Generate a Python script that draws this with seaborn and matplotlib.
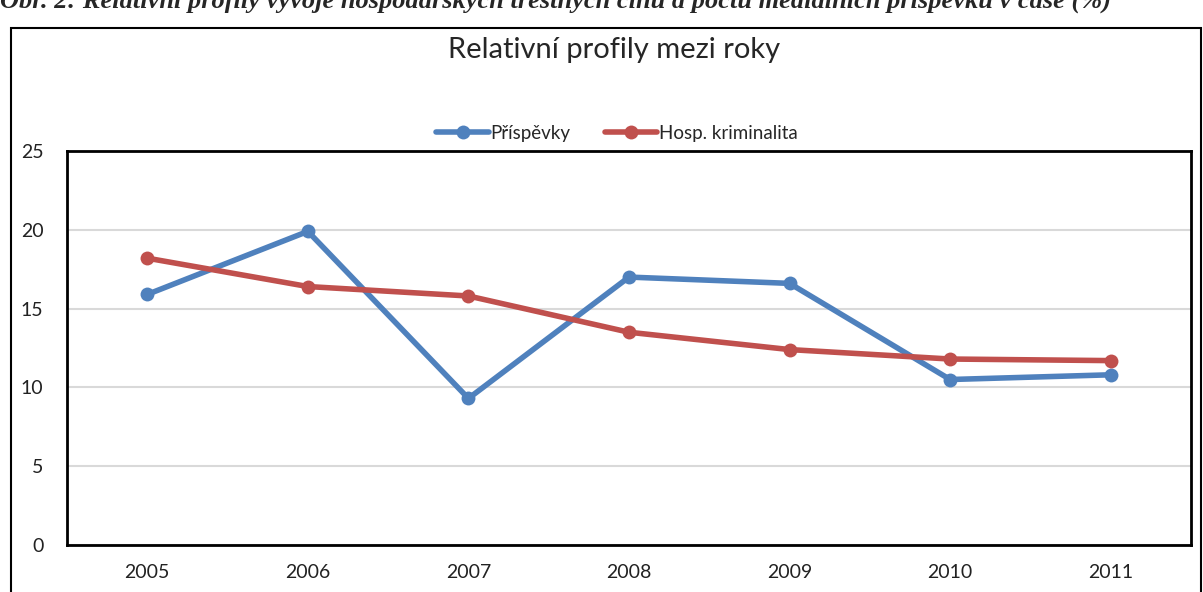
import matplotlib
matplotlib.use("Agg")
import matplotlib.pyplot as plt
import pandas as pd
import seaborn as sns
from matplotlib.patches import Rectangle

# data
years = [2005, 2006, 2007, 2008, 2009, 2010, 2011]
prispevky = [15.9, 19.9, 9.3, 17.0, 16.6, 10.5, 10.8]
kriminalita = [18.2, 16.4, 15.8, 13.5, 12.4, 11.8, 11.7]
series_names = ["Příspěvky", "Hosp. kriminalita"]
y_ticks = [0, 5, 10, 15, 20, 25]

caption = "Obr. 2: Relativní profily vývoje hospodářských trestných činů a počtu mediálních příspěvků v čase (%)"
title = "Relativní profily mezi roky"

df = pd.DataFrame({
    "rok": years * 2,
    "hodnota": prispevky + kriminalita,
    "serie": [series_names[0]] * len(years) + [series_names[1]] * len(years),
})

sns.set_style("white")
plt.rcParams["font.family"] = ["Lato", "DejaVu Sans"]

fig = plt.figure(figsize=(12.03, 5.92), dpi=100)
ax = fig.add_axes([67 / 1203, 1 - 545 / 592, (1191 - 67) / 1203, (545 - 151) / 592])

palette = {series_names[0]: "#4F81BD", series_names[1]: "#C0504D"}
sns.lineplot(data=df, x="rok", y="hodnota", hue="serie", palette=palette,
             marker="o", markersize=10, markeredgewidth=0, linewidth=4,
             ax=ax, zorder=3)

ax.set_xlim(years[0] - 0.5, years[-1] + 0.5)
ax.set_ylim(0, 25)
ax.set_xticks(years)
ax.set_xticklabels([str(y) for y in years])
ax.set_yticks(y_ticks)
ax.set_xlabel("")
ax.set_ylabel("")
ax.tick_params(axis="both", length=0, labelsize=14, colors="#222222")
ax.tick_params(axis="x", pad=14)
ax.tick_params(axis="y", pad=17)
ax.yaxis.grid(True, color="#D9D9D9", linewidth=1.5)
ax.set_axisbelow(True)
for sp in ax.spines.values():
    sp.set_color("black")
    sp.set_linewidth(2)

# legend above the plot
handles, labels = ax.get_legend_handles_labels()
ax.get_legend().remove()
fig.legend(handles, labels, loc="center", bbox_to_anchor=(617 / 1203, 1 - 133 / 592),
           ncol=2, frameon=False, fontsize=13.5, handlelength=2.8, handletextpad=0.1,
           columnspacing=1.8)

fig.text(614 / 1203, 1 - 50 / 592, title, ha="center", va="center", fontsize=21)

# outer chart border
fig.patches.append(Rectangle((11 / 1203, -0.05), (1201 - 11) / 1203, 1.05 - 28 / 592,
                             transform=fig.transFigure, fill=False,
                             edgecolor="black", linewidth=1.5))

# caption cut at the top edge
fig.text(0.0, 1 - 1 / 592, caption, ha="left", va="center", fontsize=19,
         family="Liberation Serif", fontweight="bold", fontstyle="italic")

fig.savefig("out.png", dpi=100)
